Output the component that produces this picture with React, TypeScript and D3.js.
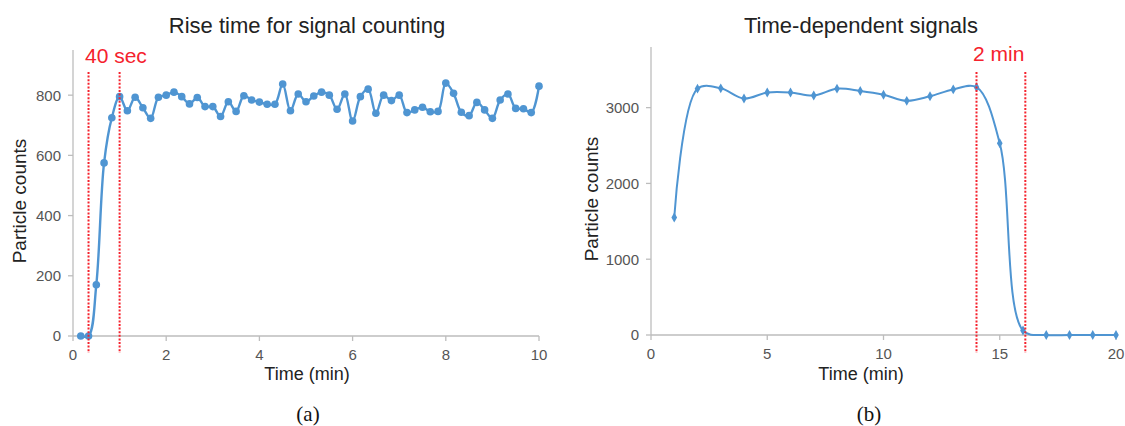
import React from "react";
import * as d3 from "d3";

// (a) rise time, sampled every 10 s
const riseSeconds = [
  10, 20, 30, 40, 50, 60, 70, 80, 90, 100, 110, 120, 130, 140, 150, 160, 170, 180, 190, 200,
  210, 220, 230, 240, 250, 260, 270, 280, 290, 300, 310, 320, 330, 340, 350, 360, 370, 380, 390, 400,
  410, 420, 430, 440, 450, 460, 470, 480, 490, 500, 510, 520, 530, 540, 550, 560, 570, 580, 590, 600,
];
const riseCounts = [
  0, 0, 170, 575, 725, 795, 748, 793, 758, 723, 793, 800, 810, 795, 771, 792, 762, 762, 729, 778,
  746, 798, 784, 777, 770, 770, 837, 748, 804, 778, 797, 810, 800, 753, 804, 714, 795, 820, 740, 800,
  782, 800, 742, 751, 760, 745, 746, 840, 806, 743, 732, 776, 751, 723, 784, 804, 756, 755, 742, 830,
];
const riseMarks = [1 / 3, 1]; // minutes
const riseXTicks = [0, 2, 4, 6, 8, 10];
const riseYTicks = [0, 200, 400, 600, 800];

// (b) time-dependent signals
const sigMinutes = [1, 2, 3, 4, 5, 6, 7, 8, 9, 10, 11, 12, 13, 14, 15, 16, 17, 18, 19, 20];
const sigCounts = [
  1550, 3250, 3255, 3120, 3200, 3200, 3160, 3250, 3220, 3170, 3090, 3150, 3240, 3270, 2530, 60, 0, 0, 0, 0,
];
const sigMarks = [14, 16.1];
const sigXTicks = [0, 5, 10, 15, 20];
const sigYTicks = [0, 1000, 2000, 3000];

const BLUE = "#4f95d2";
const RED = "#f5222d";
const AXIS = "#bdbdbd";
const TICK_TXT = "#555";
const SANS = "Liberation Sans, Arial, sans-serif";

function Panel({ xs, ys, xDomain, yDomain, xRange, yRange, xTicks, yTicks, marks, markLabel, markLabelX, markLabelY, title, titleX, yLabelX, radius, lineW, caption, captionX, diamond }: any) {
  const x = d3.scaleLinear().domain(xDomain).range(xRange);
  const y = d3.scaleLinear().domain(yDomain).range(yRange);
  const pts = xs.map((v: number, i: number) => [v, ys[i]]);
  const line = d3
    .line<number[]>()
    .x((d) => x(d[0]))
    .y((d) => y(d[1]))
    .curve(d3.curveCatmullRom.alpha(0.5));
  const y0 = y(0);
  const sym = d3.symbol().type(d3.symbolDiamond).size(28);
  return (
    <g>
      <text x={titleX} y={33} textAnchor="middle" fontSize={22} fill="#222" fontFamily={SANS}>{title}</text>
      {/* axes */}
      <line x1={xRange[0]} x2={xRange[0]} y1={yRange[1]} y2={y0} stroke={AXIS} strokeWidth={1.3} />
      <line x1={xRange[0]} x2={xRange[1]} y1={y0} y2={y0} stroke={AXIS} strokeWidth={1.3} />
      {yTicks.map((t: number) => (
        <g key={"y" + t}>
          <line x1={xRange[0] - 5} x2={xRange[0]} y1={y(t)} y2={y(t)} stroke={AXIS} strokeWidth={1.3} />
          <text x={xRange[0] - 12} y={y(t)} dy="0.36em" textAnchor="end" fontSize={15} fill={TICK_TXT} fontFamily={SANS}>{t}</text>
        </g>
      ))}
      {xTicks.map((t: number) => (
        <g key={"x" + t}>
          <line x1={x(t)} x2={x(t)} y1={y0} y2={y0 + 5} stroke={AXIS} strokeWidth={1.3} />
          <text x={x(t)} y={y0 + 24} textAnchor="middle" fontSize={15} fill={TICK_TXT} fontFamily={SANS}>{t}</text>
        </g>
      ))}
      <text x={titleX} y={380} textAnchor="middle" fontSize={18} fill="#222" fontFamily={SANS}>Time (min)</text>
      <text transform={`translate(${yLabelX},${(yRange[0] + yRange[1]) / 2 + 8}) rotate(-90)`} textAnchor="middle" fontSize={19} fill="#222" fontFamily={SANS}>Particle counts</text>
      {/* data */}
      <path d={line(pts) || ""} fill="none" stroke={BLUE} strokeWidth={lineW} />
      {pts.map((p: number[], i: number) =>
        diamond ? (
          <path key={i} d={sym() || ""} transform={`translate(${x(p[0])},${y(p[1])})`} fill={BLUE} />
        ) : (
          <circle key={i} cx={x(p[0])} cy={y(p[1])} r={radius} fill={BLUE} />
        )
      )}
      {/* markers */}
      {marks.map((m: number, i: number) => (
        <line key={"m" + i} x1={x(m)} x2={x(m)} y1={72} y2={353} stroke={RED} strokeWidth={2} strokeDasharray="2,1.6" />
      ))}
      <text x={markLabelX} y={markLabelY} fontSize={21} fill={RED} fontFamily={SANS}>{markLabel}</text>
      <text x={captionX} y={421} textAnchor="middle" fontSize={21} fill="#111" fontFamily="Liberation Serif, Times New Roman, serif">{caption}</text>
    </g>
  );
}

export default function App() {
  const riseMin = riseSeconds.map((s) => s / 60);
  return (
    <svg width={1125} height={426} style={{ position: "absolute", left: 0, top: 0, background: "#fff" }}>
      <rect width={1125} height={426} fill="#fff" />
      <Panel
        xs={riseMin}
        ys={riseCounts}
        xDomain={[0, 10]}
        yDomain={[0, 950]}
        xRange={[73, 539]}
        yRange={[336, 50]}
        xTicks={riseXTicks}
        yTicks={riseYTicks}
        marks={riseMarks}
        markLabel="40 sec"
        markLabelX={85}
        markLabelY={63}
        title="Rise time for signal counting"
        titleX={307}
        yLabelX={26}
        radius={3.8}
        lineW={2.4}
        caption="(a)"
        captionX={308}
        diamond={false}
      />
      <Panel
        xs={sigMinutes}
        ys={sigCounts}
        xDomain={[0, 20]}
        yDomain={[0, 3800]}
        xRange={[651, 1116]}
        yRange={[335, 47]}
        xTicks={sigXTicks}
        yTicks={sigYTicks}
        marks={sigMarks}
        markLabel="2 min"
        markLabelX={973}
        markLabelY={61}
        title="Time-dependent signals"
        titleX={861}
        yLabelX={598}
        radius={2.5}
        lineW={2}
        caption="(b)"
        captionX={869}
        diamond={true}
      />
    </svg>
  );
}
